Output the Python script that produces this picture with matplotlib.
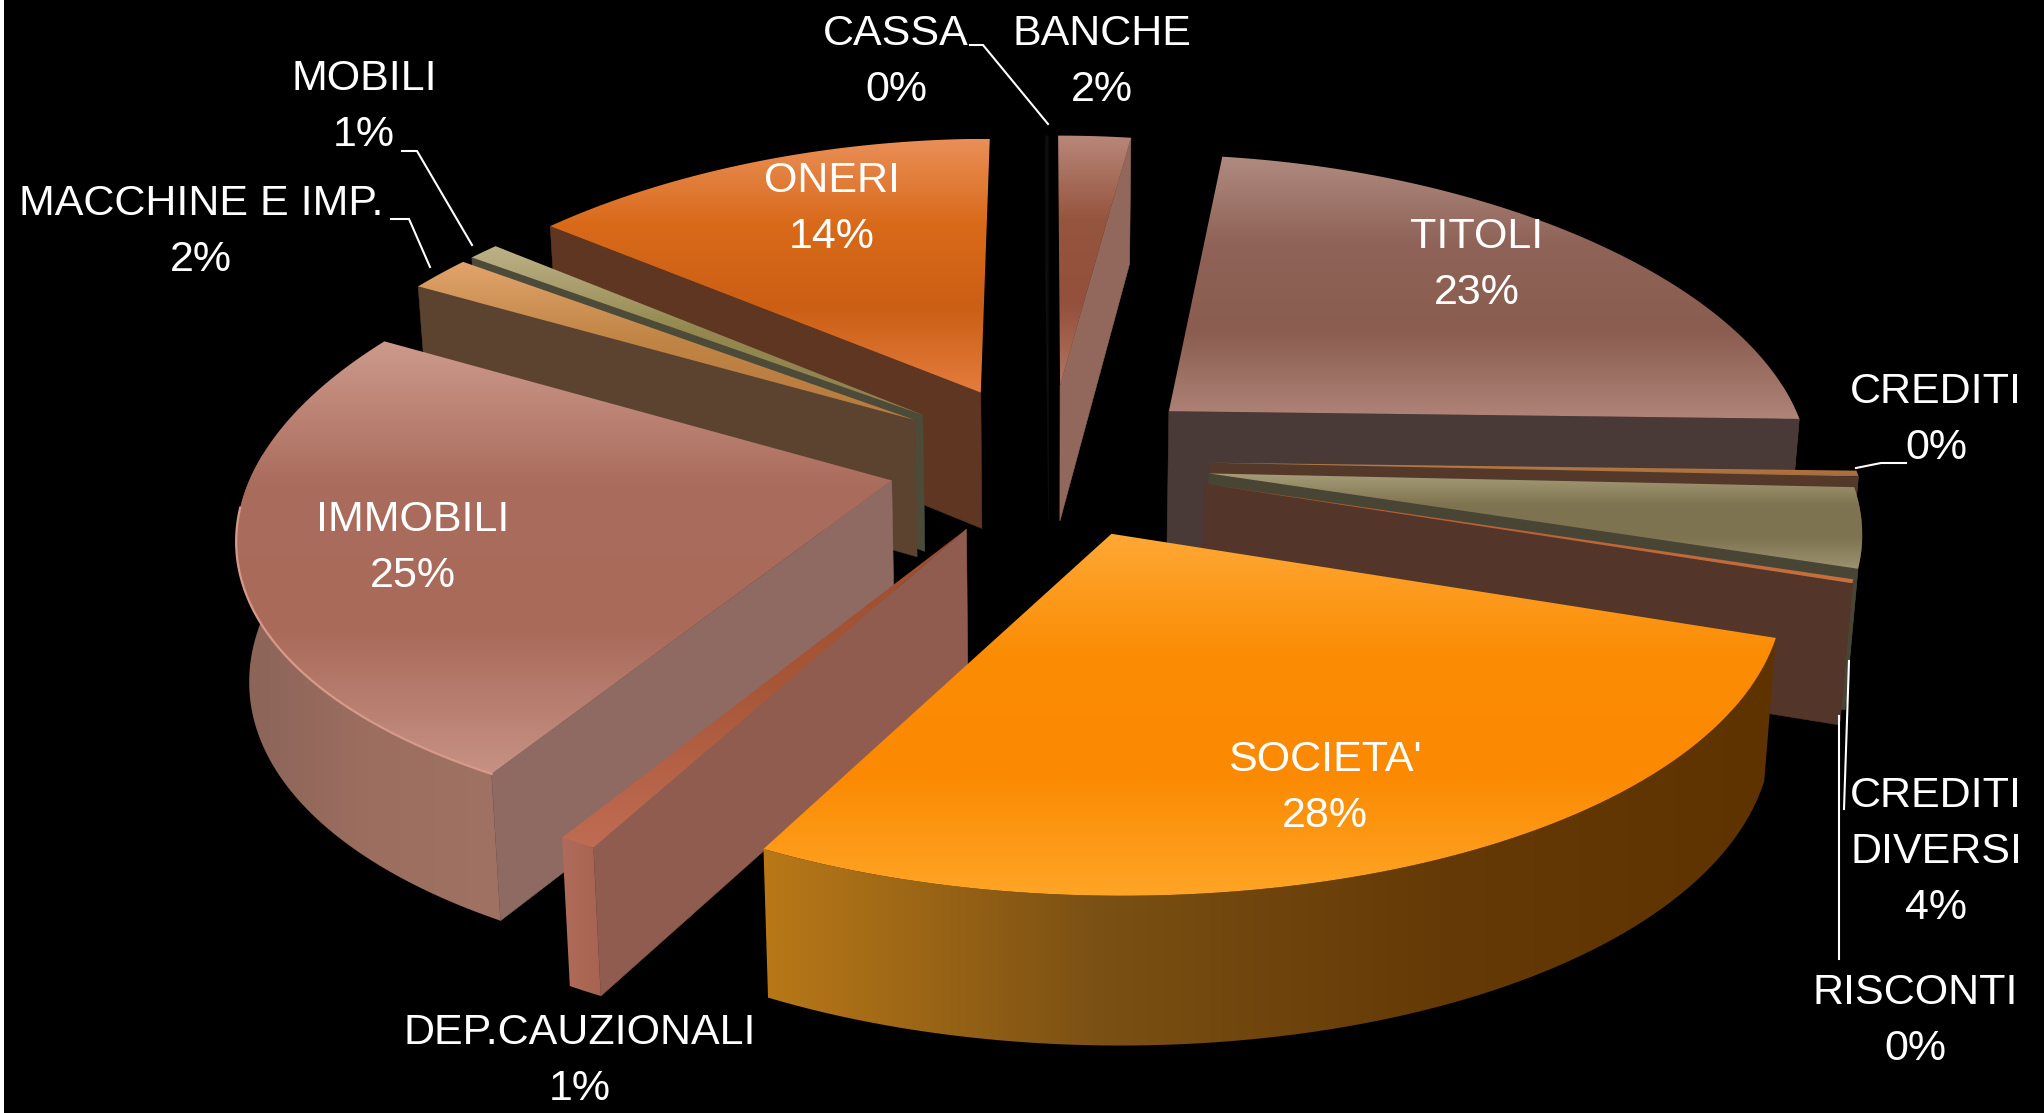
"""Exploded 3D pie of the balance sheet items, black background."""
import numpy as np
import matplotlib
matplotlib.use("Agg")
import matplotlib.pyplot as plt
from matplotlib.colors import LinearSegmentedColormap
from matplotlib.patches import Polygon, Rectangle

plt.rcParams["font.family"] = ["Liberation Sans", "DejaVu Sans"]

W, H = 2044, 1113

# clockwise from 12 o'clock
names = ["BANCHE", "TITOLI", "CREDITI", "CREDITI\nDIVERSI", "RISCONTI", "SOCIETA'",
         "DEP.CAUZIONALI", "IMMOBILI", "MACCHINE E IMP.", "MOBILI", "ONERI", "CASSA"]
values = [2.3, 23.3, 0.3, 4.15, 0.2, 28.0, 0.8, 24.5, 1.8, 0.9, 14.4, 0.1]

# back to front
draw_order = ["BANCHE", "CASSA", "TITOLI", "ONERI", "MOBILI", "MACCHINE E IMP.", "CREDITI",
              "CREDITI\nDIVERSI", "RISCONTI", "IMMOBILI", "DEP.CAUZIONALI", "SOCIETA'"]

top_colors = {
    "BANCHE": ["#b8877a", "#96553e", "#93503c", "#b27460"],
    "TITOLI": ["#b08a80", "#8f6357", "#8b5d51", "#b08478"],
    "CREDITI": ["#b87e46", "#a86c3c"],
    "CREDITI\nDIVERSI": ["#a59c78", "#7f7450", "#7e7350", "#9c9270"],
    "RISCONTI": ["#b0582c", "#c87040"],
    "SOCIETA'": ["#ffa835", "#fb8c04", "#fb8a02", "#ffa526"],
    "DEP.CAUZIONALI": ["#9c4e30", "#a85638", "#c06c54"],
    "IMMOBILI": ["#cc9a8c", "#aa6c5c", "#a96a5a", "#c69284"],
    "MACCHINE E IMP.": ["#e2a46c", "#c08444", "#b87a3e"],
    "MOBILI": ["#bdb288", "#94884f", "#8f8250"],
    "ONERI": ["#ea8f58", "#d96a1a", "#cb5f14", "#e57c3e"],
    "CASSA": ["#0e0e0e", "#0e0e0e"],
}
wall_colors = {
    "BANCHE": ["#8c6055", "#8c6055"],
    "TITOLI": ["#5a4a46", "#5a4a46"],
    "CREDITI": ["#54392a", "#54392a"],
    "CREDITI\nDIVERSI": ["#4c4635", "#4c4635"],
    "RISCONTI": ["#54352a", "#54352a"],
    "SOCIETA'": ["#b87818", "#7a5014", "#653a06", "#5f3300"],
    "DEP.CAUZIONALI": ["#b06c5a", "#a86450"],
    "IMMOBILI": ["#8a6458", "#9c6e60", "#a07264"],
    "MACCHINE E IMP.": ["#5b4330", "#5b4330"],
    "MOBILI": ["#4c4a38", "#4c4a38"],
    "ONERI": ["#5e3622", "#5e3622"],
    "CASSA": ["#0e0e0e", "#0e0e0e"],
}
cut_colors = {
    "BANCHE": "#93685c", "TITOLI": "#493a38", "CREDITI": "#54392a",
    "CREDITI\nDIVERSI": "#484535", "RISCONTI": "#54352a", "SOCIETA'": "#54352a",
    "DEP.CAUZIONALI": "#905c4f", "IMMOBILI": "#8f6a63", "MACCHINE E IMP.": "#5b4330",
    "MOBILI": "#4c4a38", "ONERI": "#5e3622", "CASSA": "#0e0e0e",
}
rim_colors = {"IMMOBILI": "#d89a88"}
radius_scale = {"IMMOBILI": 0.985, "SOCIETA'": 0.988, "CREDITI\nDIVERSI": 0.985,
                "RISCONTI": 0.98, "CREDITI": 0.995, "ONERI": 1.01}

# label centres, pixels
label_pos = {
    "CASSA": (896, 62), "BANCHE": (1102, 62), "MOBILI": (364, 107),
    "MACCHINE E IMP.": (201, 232), "ONERI": (832, 209), "TITOLI": (1477, 265),
    "CREDITI": (1936, 420), "CREDITI\nDIVERSI": (1936, 852), "RISCONTI": (1915, 1021),
    "SOCIETA'": (1325, 788), "IMMOBILI": (413, 548), "DEP.CAUZIONALI": (580, 1061),
}
leaders = [
    ([970, 983, 1048], [45, 45, 124]),
    ([402, 417, 472], [151, 151, 245]),
    ([391, 409, 430], [219, 219, 267]),
    ([1856, 1881, 1906], [468, 463, 463]),
    ([1849, 1844], [661, 809]),
    ([1839, 1839], [716, 959]),
]

# projection settings
CX, CY = 1049, 460
RAD = 645
EXPLODE = 0.25
DEPTH = 138


def project(x, y, z=0.0):
    # y towards the viewer, z downwards, slight perspective
    px = CX + RAD * x * (1 + 0.17 * y) * (1 - 0.016 * z)
    py = CY + y * (309 + 39.5 * y) + z * DEPTH * (1 + 0.07 * y)
    return px, py


def ring(a0, a1, off, z, rs=1.0, n=80):
    t = np.radians(np.linspace(a0, a1, n))
    return project(off[0] + rs * np.sin(t), off[1] - rs * np.cos(t), z)


def grad_fill(ax, xs, ys, colors, horizontal, zorder):
    verts = np.column_stack([xs, ys])
    cmap = LinearSegmentedColormap.from_list("g", colors)
    ramp = np.linspace(0, 1, 256)
    ramp = ramp[None, :] if horizontal else ramp[:, None]
    im = ax.imshow(ramp, cmap=cmap, extent=(xs.min(), xs.max(), ys.max(), ys.min()),
                   aspect="auto", interpolation="bilinear", zorder=zorder)
    patch = Polygon(verts, closed=True, transform=ax.transData, fc="none", ec="none")
    ax.add_patch(patch)
    im.set_clip_path(patch)


def cut_face(ax, ang, off, rs, color, zorder):
    t = np.radians(ang)
    ax_, ay_ = off
    rx, ry = ax_ + rs * np.sin(t), ay_ - rs * np.cos(t)
    pts = [project(ax_, ay_, 0), project(rx, ry, 0), project(rx, ry, 1), project(ax_, ay_, 1)]
    ax.add_patch(Polygon(pts, closed=True, fc=color, ec=color, lw=0.4, zorder=zorder))


fig = plt.figure(figsize=(W / 100, H / 100), dpi=100, facecolor="black")
ax = fig.add_axes([0, 0, 1, 1])
ax.set_facecolor("black")

fracs = np.array(values) / sum(values) * 360
starts = np.concatenate([[0], np.cumsum(fracs)[:-1]])
z = 2
for name in draw_order:
    i = names.index(name)
    a0, a1 = starts[i], starts[i] + fracs[i]
    mid = np.radians((a0 + a1) / 2)
    off = (EXPLODE * np.sin(mid), -EXPLODE * np.cos(mid))
    rs = radius_scale.get(name, 1.0)

    # outer wall, only the part turned to the viewer
    w0, w1 = max(a0, 85), min(a1, 275)
    if w1 > w0:
        tx, ty = ring(w0, w1, off, 0, rs)
        bx, by = ring(w0, w1, off, 1, rs)
        grad_fill(ax, np.r_[tx, bx[::-1]], np.r_[ty, by[::-1]],
                  wall_colors[name], True, z)
    # cut faces
    if np.sin(np.radians(a0)) < 0:
        cut_face(ax, a0, off, rs, cut_colors[name], z + 0.1)
    if np.sin(np.radians(a1)) > 0:
        cut_face(ax, a1, off, rs, cut_colors[name], z + 0.1)
    # top
    tx, ty = ring(a0, a1, off, 0, rs)
    ox, oy = project(off[0], off[1], 0)
    grad_fill(ax, np.r_[ox, tx], np.r_[oy, ty], top_colors[name], False, z + 0.2)
    if name in rim_colors:
        w0, w1 = max(a0, 175), min(a1, 265)
        rx, ry = ring(w0, w1, off, 0, rs)
        ax.plot(rx, ry, color=rim_colors[name], lw=1.6, zorder=z + 0.3)
    z += 1

for lx, ly in leaders:
    ax.plot(lx, ly, color="white", lw=1.5, zorder=50, solid_joinstyle="miter")

for name, val in zip(names, values):
    px, py = label_pos[name]
    ax.text(px, py, f"{name}\n{int(val + 0.5)}%", color="white", fontsize=31, ha="center",
            va="center", linespacing=1.52, zorder=60)

ax.add_patch(Rectangle((0, 0), 4, H, fc="white", ec="none", zorder=70))
ax.set_xlim(0, W)
ax.set_ylim(H, 0)
ax.axis("off")
fig.savefig("out.png", dpi=100, facecolor="black")
print("wrote out.png")
